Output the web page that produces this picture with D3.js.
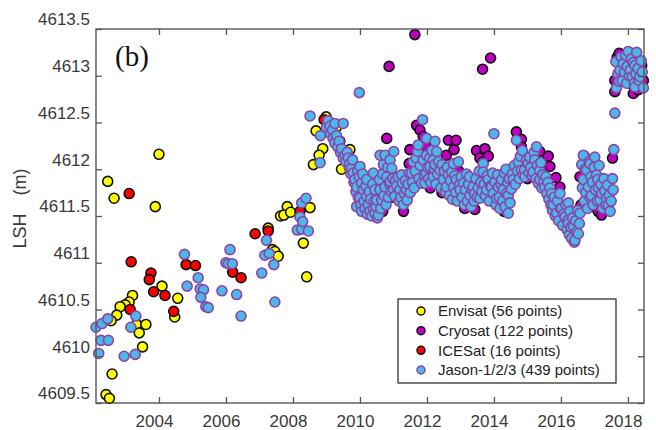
<!DOCTYPE html>
<html>
<head>
<meta charset="utf-8">
<script src="https://cdn.jsdelivr.net/npm/d3@7"></script>
<style>
  body { margin: 0; background: #fff; }
  svg text { font-family: "Liberation Sans", Arial, sans-serif; }
  .axis text { font-size: 17px; fill: #3a3a3a; }
  .axis path, .axis line { stroke: #555; stroke-width: 1.3px; }
  .legend text { font-size: 15px; fill: #222; }
</style>
</head>
<body>
<svg id="chart" width="656" height="430"></svg>
<script>
// ---- data (year, LSH in m) ----
const xTicks = [2004, 2006, 2008, 2010, 2012, 2014, 2016, 2018]
const yTicks = [4609.5, 4610, 4610.5, 4611, 4611.5, 4612, 4612.5, 4613, 4613.5]

const envisat = [
  [2004.00,4612.16],[2002.47,4611.87],[2002.66,4611.69],[2003.89,4611.60],[2004.09,4610.75],
  [2004.56,4610.62],[2004.47,4610.42],[2003.21,4610.65],[2003.11,4610.58],[2002.99,4610.55],
  [2002.84,4610.53],[2002.74,4610.44],[2002.57,4610.38],[2003.33,4610.34],[2003.41,4610.25],
  [2003.61,4610.34],[2003.51,4610.10],[2002.60,4609.81],[2002.42,4609.59],[2002.52,4609.55],
  [2008.99,4612.56],[2008.69,4612.41],[2008.89,4612.22],[2008.78,4612.15],[2008.61,4612.05],
  [2007.83,4611.60],[2007.63,4611.50],[2007.73,4611.51],[2007.93,4611.54],[2008.51,4611.59],
  [2007.26,4611.37],[2007.39,4611.14],[2007.46,4611.12],[2007.56,4611.07],[2008.31,4611.21],
  [2008.41,4610.85],[2009.45,4612.00],[2010.35,4611.78],[2010.65,4611.62],[2009.40,4612.30],
  [2009.70,4612.21],[2009.30,4612.45],[2010.00,4611.62]
]

const cryosat = [
  [2010.87,4613.10],[2011.64,4613.44],[2013.66,4613.07],[2013.90,4613.19],[2010.80,4612.33],
  [2010.60,4611.80],[2010.68,4611.55],[2010.95,4611.70],[2011.14,4611.72],[2011.30,4611.55],
  [2011.47,4612.06],[2011.49,4612.21],[2011.60,4611.95],[2011.69,4612.47],[2011.79,4612.42],
  [2011.89,4612.35],[2011.95,4612.25],[2012.10,4611.80],[2012.30,4611.90],[2012.45,4611.75],
  [2012.58,4612.15],[2012.64,4612.31],[2012.81,4612.21],[2012.87,4612.31],[2012.95,4611.98],
  [2013.08,4611.71],[2013.13,4611.58],[2013.18,4611.69],[2013.30,4611.85],[2013.48,4612.20],
  [2013.58,4612.12],[2013.68,4612.08],[2013.73,4612.22],[2013.83,4612.14],[2013.95,4611.70],
  [2014.18,4611.67],[2014.30,4611.55],[2014.43,4611.76],[2014.52,4611.81],[2014.58,4611.85],
  [2014.67,4612.40],[2014.82,4612.32],[2014.82,4612.24],[2015.00,4611.90],[2015.20,4612.00],
  [2015.37,4612.19],[2015.50,4611.90],[2015.62,4612.14],[2015.67,4612.03],[2015.85,4611.91],
  [2015.97,4611.81],[2016.00,4611.45],[2016.12,4611.52],[2016.20,4611.35],[2016.30,4611.32],
  [2016.37,4611.28],[2016.45,4611.35],[2016.55,4611.58],[2016.57,4611.92],[2016.60,4611.62],
  [2016.69,4612.14],[2016.85,4611.70],[2017.00,4611.60],[2017.11,4611.55],[2017.21,4611.51],
  [2017.35,4611.72],[2017.45,4611.65],[2017.54,4612.12],[2013.43,4611.57],
  [2017.61,4612.95],[2017.61,4612.83],[2017.68,4613.20],[2017.74,4613.24],[2017.85,4613.10],
  [2017.95,4613.02],[2018.05,4612.92],[2018.16,4612.81],[2018.16,4612.90],[2018.30,4612.85],
  [2018.41,4613.11],[2018.41,4612.90],[2018.46,4612.95]
]

const icesat = [
  [2003.11,4611.74],[2003.17,4611.01],[2003.76,4610.89],[2003.71,4610.82],[2003.84,4610.69],
  [2004.18,4610.65],[2004.81,4610.98],[2005.09,4610.97],[2004.44,4610.48],[2003.14,4610.50],
  [2006.20,4610.90],[2006.45,4610.84],[2006.87,4611.31],[2007.26,4611.34],[2008.21,4611.55],
  [2008.93,4612.53]
]

const jason = [
  // 2002 - 2009
  [2002.12,4610.31],[2002.30,4610.35],[2002.47,4610.40],[2002.27,4610.17],[2002.49,4610.17],
  [2002.20,4610.03],[2002.96,4610.00],[2003.29,4610.02],[2003.16,4610.31],[2003.31,4610.43],
  [2004.76,4611.09],[2004.84,4610.75],[2005.17,4610.84],[2005.23,4610.72],[2005.33,4610.71],
  [2005.25,4610.63],[2005.40,4610.53],[2005.47,4610.52],[2005.88,4610.70],[2006.00,4611.00],
  [2006.12,4611.14],[2006.07,4610.99],[2006.19,4610.99],[2006.32,4610.66],[2006.45,4610.43],
  [2007.07,4610.89],[2007.43,4610.98],[2007.16,4611.08],[2007.29,4611.10],[2007.21,4611.24],
  [2007.46,4610.58],[2008.13,4611.35],[2008.26,4611.36],[2008.21,4611.49],[2008.29,4611.44],
  [2008.46,4611.34],[2008.26,4611.64],[2008.39,4611.69],[2008.51,4612.57],[2008.82,4612.36],
  [2008.81,4612.07],
  // 2009 - 2010
  [2009.00,4612.45],[2009.05,4612.52],[2009.10,4612.46],[2009.12,4612.38],[2009.18,4612.42],
  [2009.20,4612.33],[2009.25,4612.49],[2009.25,4612.28],[2009.30,4612.36],[2009.34,4612.24],
  [2009.38,4612.30],[2009.42,4612.18],[2009.45,4612.22],[2009.50,4612.49],[2009.50,4612.12],
  [2009.55,4612.15],[2009.58,4612.08],[2009.62,4612.18],[2009.65,4612.12],[2009.68,4612.02],
  [2009.70,4612.06],[2009.73,4611.95],[2009.75,4612.01],[2009.78,4612.10],[2009.80,4611.96],
  [2009.82,4611.86],[2009.85,4611.89],[2009.88,4611.76],[2009.90,4611.81],[2009.90,4611.60],
  [2009.93,4611.98],[2009.95,4611.70],[2009.98,4611.92],[2009.98,4612.82],
  // 2010 - 2011
  [2010.00,4612.03],[2010.00,4611.69],[2010.03,4611.62],[2010.05,4611.85],[2010.05,4611.55],
  [2010.08,4611.95],[2010.10,4611.78],[2010.12,4611.66],[2010.15,4611.58],[2010.18,4611.82],
  [2010.20,4611.89],[2010.20,4611.71],[2010.22,4611.52],[2010.25,4611.62],[2010.28,4611.76],
  [2010.30,4611.55],[2010.32,4611.68],[2010.35,4611.50],[2010.38,4611.84],[2010.40,4611.96],
  [2010.40,4611.58],[2010.43,4611.66],[2010.45,4611.78],[2010.45,4611.53],[2010.48,4611.60],
  [2010.50,4611.67],[2010.52,4611.48],[2010.55,4611.51],[2010.58,4611.89],[2010.60,4611.78],
  [2010.60,4612.15],[2010.62,4611.58],[2010.65,4611.67],[2010.68,4611.95],[2010.70,4612.05],
  [2010.72,4611.72],[2010.75,4612.15],[2010.75,4611.81],[2010.78,4611.62],[2010.80,4611.92],
  [2010.83,4612.02],[2010.85,4611.70],[2010.88,4611.85],[2010.90,4612.10],[2010.90,4611.87],
  [2010.93,4611.76],[2010.95,4612.01],[2010.98,4611.90],[2011.00,4611.78],[2011.01,4612.19],
  // 2011 - 2012
  [2011.04,4611.71],[2011.06,4611.88],[2011.10,4611.82],[2011.14,4611.92],[2011.17,4611.66],
  [2011.19,4611.78],[2011.22,4611.70],[2011.24,4611.94],[2011.27,4611.85],[2011.30,4611.62],
  [2011.33,4611.74],[2011.36,4611.88],[2011.39,4611.78],[2011.41,4611.67],[2011.44,4611.84],
  [2011.47,4611.96],[2011.50,4611.75],[2011.54,4611.96],[2011.57,4611.86],[2011.59,4612.08],
  [2011.62,4611.80],[2011.65,4611.98],[2011.68,4612.12],[2011.72,4612.19],[2011.74,4612.26],
  [2011.76,4611.90],[2011.80,4612.04],[2011.84,4611.85],[2011.87,4612.53],[2011.89,4612.10],
  [2011.92,4611.94],[2011.94,4611.85],[2011.97,4611.96],[2011.99,4612.15],[2011.99,4612.33],
  // 2012 - 2013
  [2012.02,4612.02],[2012.05,4611.90],[2012.08,4612.12],[2012.09,4612.03],[2012.12,4611.86],
  [2012.15,4612.20],[2012.19,4612.10],[2012.19,4611.92],[2012.22,4612.00],[2012.24,4612.30],
  [2012.24,4612.05],[2012.27,4611.84],[2012.29,4612.19],[2012.32,4611.95],[2012.35,4612.08],
  [2012.39,4611.99],[2012.42,4611.80],[2012.45,4612.05],[2012.49,4611.89],[2012.52,4611.98],
  [2012.55,4611.76],[2012.58,4611.81],[2012.61,4612.02],[2012.64,4611.94],[2012.67,4611.72],
  [2012.70,4611.88],[2012.74,4611.97],[2012.76,4611.68],[2012.79,4612.06],[2012.79,4611.81],
  [2012.83,4611.93],[2012.86,4611.75],[2012.88,4611.89],[2012.91,4611.66],[2012.94,4612.08],
  [2012.97,4611.83],[2012.99,4611.78],
  // 2013 - 2014
  [2013.02,4611.92],[2013.05,4611.70],[2013.09,4611.85],[2013.12,4611.62],[2013.15,4611.78],
  [2013.18,4611.95],[2013.21,4611.66],[2013.24,4611.84],[2013.27,4611.92],[2013.28,4611.72],
  [2013.32,4611.60],[2013.35,4611.78],[2013.38,4611.81],[2013.41,4611.66],[2013.43,4611.74],
  [2013.46,4611.90],[2013.50,4611.70],[2013.53,4611.80],[2013.56,4611.98],[2013.58,4611.69],
  [2013.61,4611.86],[2013.64,4611.76],[2013.68,4612.06],[2013.68,4611.97],[2013.71,4611.84],
  [2013.74,4611.72],[2013.78,4611.78],[2013.80,4611.93],[2013.83,4611.89],[2013.86,4611.66],
  [2013.90,4611.82],[2013.93,4611.81],[2013.96,4611.96],[2013.98,4611.74],[2014.00,4612.38],
  // 2014 - 2015
  [2014.03,4611.86],[2014.06,4611.62],[2014.08,4611.69],[2014.11,4611.94],[2014.13,4611.81],
  [2014.16,4611.70],[2014.18,4611.58],[2014.21,4611.84],[2014.23,4611.89],[2014.26,4611.66],
  [2014.28,4611.78],[2014.31,4611.96],[2014.33,4611.60],[2014.36,4612.00],[2014.38,4611.74],
  [2014.41,4611.86],[2014.43,4611.72],[2014.43,4611.53],[2014.46,4611.90],[2014.48,4611.64],
  [2014.52,4611.79],[2014.55,4611.95],[2014.58,4611.89],[2014.61,4612.04],[2014.64,4611.84],
  [2014.67,4612.31],[2014.70,4611.98],[2014.73,4612.08],[2014.76,4611.90],[2014.79,4612.14],
  [2014.82,4611.99],[2014.85,4612.20],[2014.88,4611.94],[2014.91,4611.99],[2014.93,4611.92],
  [2014.97,4612.10],
  // 2015 - 2016
  [2015.02,4612.06],[2015.05,4611.96],[2015.07,4612.13],[2015.10,4612.02],[2015.14,4611.93],
  [2015.17,4611.97],[2015.20,4612.18],[2015.22,4612.10],[2015.25,4611.90],[2015.27,4612.24],
  [2015.30,4612.04],[2015.33,4611.85],[2015.37,4611.99],[2015.37,4611.89],[2015.40,4612.07],
  [2015.43,4611.80],[2015.46,4611.94],[2015.49,4611.86],[2015.52,4611.81],[2015.55,4611.92],
  [2015.58,4611.74],[2015.61,4611.86],[2015.64,4611.68],[2015.67,4611.80],[2015.70,4611.62],
  [2015.72,4611.74],[2015.75,4611.56],[2015.77,4611.62],[2015.80,4611.70],[2015.83,4611.50],
  [2015.87,4611.53],[2015.90,4611.66],[2015.93,4611.45],[2015.97,4611.74],[2015.99,4611.58],
  // 2016 - 2016.6
  [2016.02,4611.58],[2016.05,4611.40],[2016.08,4611.52],[2016.12,4611.49],[2016.15,4611.62],
  [2016.18,4611.36],[2016.20,4611.45],[2016.22,4611.64],[2016.22,4611.42],[2016.25,4611.30],
  [2016.27,4611.55],[2016.30,4611.38],[2016.32,4611.26],[2016.35,4611.48],[2016.37,4611.39],
  [2016.40,4611.22],[2016.42,4611.24],[2016.44,4611.45],[2016.47,4611.33],[2016.50,4611.56],
  [2016.52,4611.31],[2016.55,4611.42],[2016.57,4611.53],
  // 2016.6 - 2017.6
  [2016.62,4612.05],[2016.64,4611.80],[2016.67,4612.15],[2016.67,4611.89],[2016.70,4611.66],
  [2016.72,4612.00],[2016.74,4611.75],[2016.77,4611.99],[2016.79,4611.58],[2016.82,4611.81],
  [2016.84,4612.08],[2016.87,4612.06],[2016.87,4611.70],[2016.89,4611.92],[2016.91,4611.72],
  [2016.94,4611.86],[2016.96,4611.62],[2016.99,4612.02],[2017.01,4612.13],[2017.03,4611.78],
  [2017.06,4611.94],[2017.08,4611.66],[2017.10,4611.89],[2017.12,4611.80],[2017.14,4612.04],
  [2017.16,4611.67],[2017.19,4611.84],[2017.22,4611.74],[2017.25,4611.58],[2017.28,4611.90],
  [2017.31,4611.77],[2017.34,4611.62],[2017.36,4611.69],[2017.39,4611.83],[2017.41,4611.62],
  [2017.44,4611.72],[2017.47,4611.55],[2017.50,4611.66],[2017.54,4611.90],[2017.56,4611.78],
  [2017.58,4612.21],[2017.61,4612.60],
  // 2017.6 - 2018.5
  [2017.64,4613.15],[2017.66,4612.87],[2017.70,4613.02],[2017.74,4612.94],[2017.76,4613.06],
  [2017.80,4613.20],[2017.83,4612.95],[2017.86,4613.13],[2017.90,4613.04],[2017.93,4613.22],
  [2017.96,4612.92],[2017.98,4613.10],[2018.01,4613.26],[2018.04,4613.00],[2018.07,4613.06],
  [2018.10,4613.18],[2018.13,4612.99],[2018.16,4613.14],[2018.19,4612.92],[2018.21,4613.11],
  [2018.21,4612.88],[2018.24,4613.02],[2018.26,4613.25],[2018.30,4613.08],[2018.33,4612.95],
  [2018.36,4612.99],[2018.40,4613.16],[2018.43,4613.04],[2018.46,4612.87]
]

const series = [
  {name: 'Envisat (56 points)', data: envisat, fill: '#ffff00', stroke: '#111'},
  {name: 'Cryosat (122 points)', data: cryosat, fill: '#c000c0', stroke: '#111'},
  {name: 'ICESat (16 points)', data: icesat, fill: '#ff0000', stroke: '#111'},
  {name: 'Jason-1/2/3 (439 points)', data: jason, fill: '#4db8e8', stroke: '#8a44aa'}
]

// ---- frame ----
const frame = {left: 96, right: 644, top: 29, bottom: 403}
const svg = d3.select('#chart')

const x = d3.scaleLinear().domain([2002.12, 2018.48]).range([frame.left, frame.right])
const y = d3.scaleLinear().domain([4609.5, 4613.5]).range([frame.bottom, frame.top])

// points
const plot = svg.append('g')
series.forEach(s => {
  plot.append('g').selectAll('circle').data(s.data).join('circle')
    .attr('cx', d => x(d[0])).attr('cy', d => y(d[1])).attr('r', 5)
    .attr('fill', s.fill).attr('stroke', s.stroke).attr('stroke-width', 1.6)
})

// axes, ticks inward
const fmt = d => String(d)
svg.append('g').attr('class', 'axis').attr('transform', `translate(0,${frame.bottom})`)
  .call(d3.axisBottom(x).tickValues(xTicks).tickFormat(fmt).tickSizeInner(-6).tickSizeOuter(0).tickPadding(12))
  .call(g => g.selectAll('text').attr('font-size', 18).attr('dx', -5))
svg.append('g').attr('class', 'axis').attr('transform', `translate(0,${frame.top})`)
  .call(d3.axisTop(x).tickValues(xTicks).tickFormat('').tickSizeInner(-6).tickSizeOuter(0))
svg.append('g').attr('class', 'axis').attr('transform', `translate(${frame.left},0)`)
  .call(d3.axisLeft(y).tickValues(yTicks).tickFormat(fmt).tickSizeInner(-6).tickSizeOuter(0).tickPadding(6))
  .call(g => g.selectAll('text').attr('dy', '-0.25em'))
svg.append('g').attr('class', 'axis').attr('transform', `translate(${frame.right},0)`)
  .call(d3.axisRight(y).tickValues(yTicks).tickFormat('').tickSizeInner(-6).tickSizeOuter(0))
svg.selectAll('.axis .domain').remove()
svg.append('rect')
  .attr('x', frame.left).attr('y', frame.top)
  .attr('width', frame.right - frame.left).attr('height', frame.bottom - frame.top)
  .attr('fill', 'none').attr('stroke', '#555').attr('stroke-width', 1.4)

// y title
svg.append('text').attr('transform', 'translate(26,231) rotate(-90)')
  .attr('text-anchor', 'middle').attr('font-size', 18).attr('fill', '#3a3a3a').text('LSH')
svg.append('text').attr('transform', 'translate(26,182) rotate(-90)')
  .attr('text-anchor', 'middle').attr('font-size', 18).attr('fill', '#3a3a3a').text('(m)')

// panel label
svg.append('text').attr('x', 115).attr('y', 66)
  .style('font-family', '"Liberation Serif", "Times New Roman", serif')
  .attr('font-size', 29).attr('fill', '#111').text('(b)')

// legend
const legend = svg.append('g').attr('class', 'legend')
legend.append('rect').attr('x', 398).attr('y', 299).attr('width', 218).attr('height', 84)
  .attr('fill', '#fff').attr('stroke', '#222').attr('stroke-width', 1.2)
const rowY = d3.scalePoint().domain(series.map(s => s.name)).range([311, 370])
series.forEach(s => {
  legend.append('circle').attr('cx', 421).attr('cy', rowY(s.name)).attr('r', 4)
    .attr('fill', s.fill).attr('stroke', s.stroke).attr('stroke-width', 1.5)
  legend.append('text').attr('x', 438).attr('y', rowY(s.name)).attr('dy', '0.36em').text(s.name)
})
</script>
</body>
</html>
